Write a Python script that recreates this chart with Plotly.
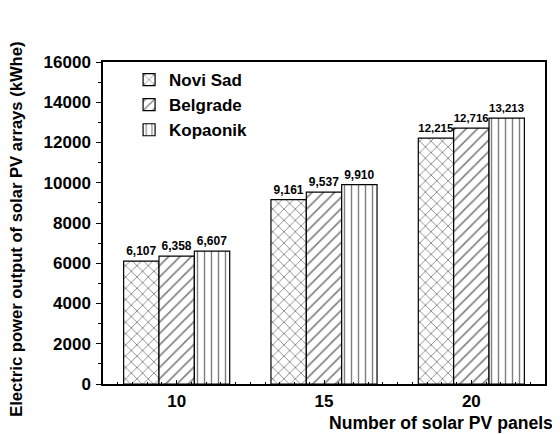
import plotly.graph_objects as go

panels = [10, 15, 20]
novi_sad = [6107, 9161, 12215]
belgrade = [6358, 9537, 12716]
kopaonik = [6607, 9910, 13213]

series = [("Novi Sad", novi_sad, "x", 8), ("Belgrade", belgrade, "/", 8), ("Kopaonik", kopaonik, "|", 7)]

FONT = "Arial, Liberation Sans, sans-serif"
fig = go.Figure()
for name, vals, shape, sz in series:
    fig.add_trace(go.Bar(
        x=panels, y=vals, name=f"<b>{name}</b>",
        marker=dict(color="white", line=dict(color="black", width=1.2),
                    pattern=dict(shape=shape, fgcolor="black", bgcolor="white", size=sz, solidity=0.2)),
        texttemplate="<b>%{y:,}</b>", textposition="outside", cliponaxis=False,
        textfont=dict(family=FONT, size=12, color="black"),
    ))

fig.update_layout(
    width=552, height=426,
    margin=dict(l=95, r=15, t=54, b=50, autoexpand=False),
    paper_bgcolor="white", plot_bgcolor="white",
    barmode="group", bargap=0.28, bargroupgap=0,
    font=dict(family=FONT, color="black"),
    showlegend=True,
    legend=dict(x=0.059, y=1.0, xanchor="left", yanchor="top", bgcolor="rgba(0,0,0,0)",
                font=dict(family=FONT, size=17, color="black"), tracegroupgap=0),
)
fig.update_xaxes(
    range=[7.5, 22.5], tickmode="array", tickvals=panels, ticktext=["<b>10</b>", "<b>15</b>", "<b>20</b>"],
    tickfont=dict(family=FONT, size=17, color="black"), ticklabelstandoff=1,
    showline=True, linecolor="black", linewidth=1.5, mirror=True,
    ticks="inside", ticklen=4, tickcolor="black", showgrid=False, zeroline=False,
    minor=dict(dtick=0.5, ticks="inside", ticklen=2, tickcolor="black"),
)
fig.update_yaxes(
    range=[0, 16000], dtick=2000, tickformat="d",
    tickfont=dict(family=FONT, size=17, color="black"), ticklabelstandoff=2,
    showline=True, linecolor="black", linewidth=1.5, mirror=True,
    ticks="outside", ticklen=5, tickcolor="black", showgrid=False, zeroline=False,
    minor=dict(dtick=1000, ticks="outside", ticklen=3, tickcolor="black"),
    tickprefix="<b>", ticksuffix="</b>",
)
fig.add_annotation(text="<b>Electric power output of solar PV arrays (kWhe)</b>", xref="paper", yref="paper",
                   x=-0.196, y=0.48, xanchor="center", yanchor="middle", textangle=-90, showarrow=False,
                   borderpad=0, font=dict(family=FONT, size=16.6, color="black"))
fig.add_annotation(text="<b>Number of solar PV panels</b>", xref="paper", yref="paper",
                   x=1.023, y=-0.122, xanchor="right", yanchor="middle", showarrow=False,
                   font=dict(family=FONT, size=17.6, color="black"))
fig.write_html("out.html")
